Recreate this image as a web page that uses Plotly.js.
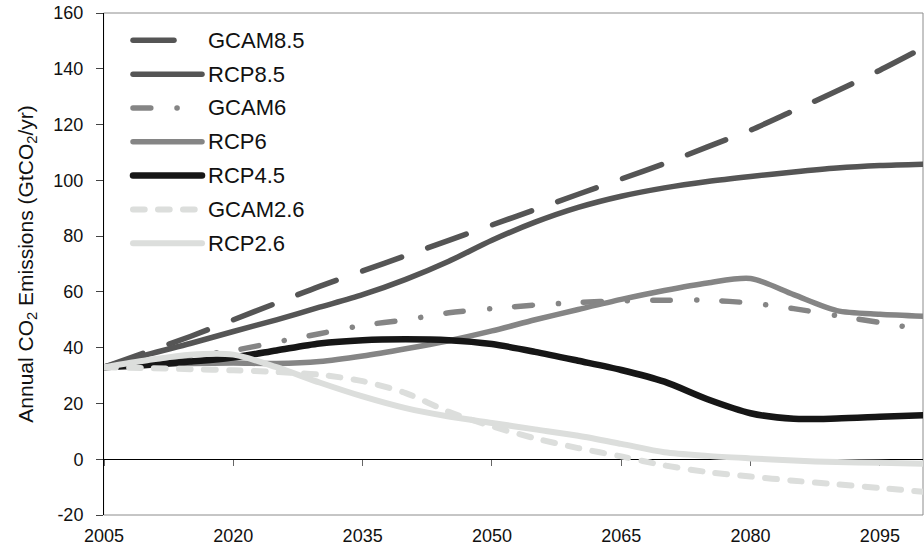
<!DOCTYPE html>
<html>
<head>
<meta charset="utf-8">
<script src="https://cdn.plot.ly/plotly-3.0.1.min.js"></script>
<style>html,body{margin:0;padding:0;background:#fff;}#chart{width:924px;height:549px;}</style>
</head>
<body>
<div id="chart"></div>
<script>
// ---- data ----
const years = [2005,2010,2015,2020,2025,2030,2035,2040,2045,2050,2055,2060,2065,2070,2075,2080,2085,2090,2095,2100];
const gcam85 = [33,38.5,44,50,56,62,67.5,73,78.5,84,89.5,95,100.5,106,112,118,125,132,139.5,147.5];
const rcp85  = [33,37.5,41.5,45.8,50,54.5,59,64.5,71,78.5,85,90.3,94.3,97.3,99.6,101.4,103,104.4,105.3,105.8];
const gcam6  = [33,35,37,39,42,45,48,50,52.5,54,55.3,56.2,56.8,57,57,56,54,51.5,49,46.5];
const rcp6   = [33,33.8,34.3,34.5,34.3,35,37,39.6,42.5,46,50,53.7,57.3,60.5,63.2,64.8,59,53.3,52,51.3];
const rcp45  = [33,33.8,35,36.5,39,41.5,42.7,43,42.7,41.3,38.5,35.3,32,27.8,21.5,16.5,14.5,14.6,15.2,15.8];
const gcam26 = [33,32.7,32.3,31.9,31.3,30.3,28,23.7,17,11.8,7.5,4,1,-2.2,-4.6,-6.2,-7.7,-9,-10.3,-11.7];
const rcp26  = [33,35.5,37.5,37.5,33,27.5,22.5,18.3,15.3,13,10.7,8.4,5.5,2.5,1.2,0.3,-0.5,-1.0,-1.3,-1.6];
const seriesNames = ['GCAM8.5','RCP8.5','GCAM6','RCP6','RCP4.5','GCAM2.6','RCP2.6'];
const xTickVals = [2005,2020,2035,2050,2065,2080,2095];
const yTickVals = [-20,0,20,40,60,80,100,120,140,160];
const yTickText = ['-20','0','20','40','60','80','100','120','140','160'];
const yTitle = 'Annual CO<sub>2</sub> Emissions (GtCO<sub>2</sub>/yr)';

// ---- styles ----
const dark = '#555555', mid = '#858585', black = '#161616', light = '#dcdedc';
const styles = [
  {color: dark,  width: 5.5, dash: '41px,28px'},
  {color: dark,  width: 5.5, dash: 'solid'},
  {color: mid,   width: 5.5, dash: '17.8px,26.2px,0.1px,25.1px'},
  {color: mid,   width: 5.5, dash: 'solid'},
  {color: black, width: 6.5, dash: 'solid'},
  {color: light, width: 6,   dash: '11.7px,13.3px'},
  {color: light, width: 6,   dash: 'solid'}
];
const values = [gcam85, rcp85, gcam6, rcp6, rcp45, gcam26, rcp26];

const traces = values.map((v, i) => ({
  x: years, y: v, type: 'scatter', mode: 'lines', name: seriesNames[i],
  line: {color: styles[i].color, width: styles[i].width, dash: styles[i].dash, shape: 'spline', smoothing: 0.8},
  showlegend: false, hoverinfo: 'skip'
}));

// plot area in pixels (for legend placement)
const W = 924, H = 549, ML = 104, MR = 1, MT = 13, MB = 34;
const pw = W - ML - MR, ph = H - MT - MB;
const px2x = p => (p - ML) / pw;
const px2y = p => (H - MB - p) / ph;

const shapes = [
  {type: 'rect', xref: 'paper', yref: 'paper', x0: 0, x1: 1, y0: 0, y1: 1,
   line: {color: '#8c8c8c', width: 1}, layer: 'below'}
];
const annotations = [];
seriesNames.forEach((n, i) => {
  const yp = 40.3 + i * 33.83;
  shapes.push({type: 'line', xref: 'paper', yref: 'paper',
    x0: px2x(133), x1: px2x(202), y0: px2y(yp), y1: px2y(yp),
    line: {color: styles[i].color, width: styles[i].width, dash: styles[i].dash}});
  annotations.push({xref: 'paper', yref: 'paper', x: px2x(206), y: px2y(yp),
    xanchor: 'left', yanchor: 'middle', text: n, showarrow: false,
    font: {family: 'Liberation Sans, Arial, sans-serif', size: 22, color: '#111'}});
});

const layout = {
  width: W, height: H,
  margin: {l: ML, r: MR, t: MT, b: MB},
  paper_bgcolor: '#fff', plot_bgcolor: '#fff',
  font: {family: 'Liberation Sans, Arial, sans-serif', size: 18, color: '#111'},
  showlegend: false,
  xaxis: {range: [2005, 2100], tickvals: xTickVals, ticks: '', showline: false,
          showgrid: false, zeroline: false, fixedrange: true, ticklabelstandoff: 8},
  xaxis2: {range: [2005, 2100], overlaying: 'x', anchor: 'free', position: 20/180,
           tickvals: xTickVals, ticks: 'outside', ticklen: 6, tickcolor: '#666', tickwidth: 1,
           showticklabels: false, showline: true, linecolor: '#000', linewidth: 1,
           showgrid: false, zeroline: false, layer: 'below traces'},
  yaxis: {range: [-20, 160], tickvals: yTickVals, ticktext: yTickText, ticks: 'outside', ticklen: 7, tickcolor: '#444',
          showline: true, linecolor: '#000', linewidth: 1, showgrid: false, zeroline: false,
          ticklabelstandoff: 9,
          title: {text: yTitle, font: {size: 21, color: '#111'}, standoff: 14}},
  shapes: shapes,
  annotations: annotations
};

// dummy trace to activate xaxis2
traces.unshift({x: [2005], y: [null], xaxis: 'x2', type: 'scatter', mode: 'lines', showlegend: false, hoverinfo: 'skip'});

Plotly.newPlot('chart', traces, layout, {staticPlot: true}).then(() => {
  document.querySelectorAll('.scatterlayer .js-line, .shapelayer path').forEach(p => {
    p.style.strokeLinecap = 'round';
  });
});
</script>
</body>
</html>
